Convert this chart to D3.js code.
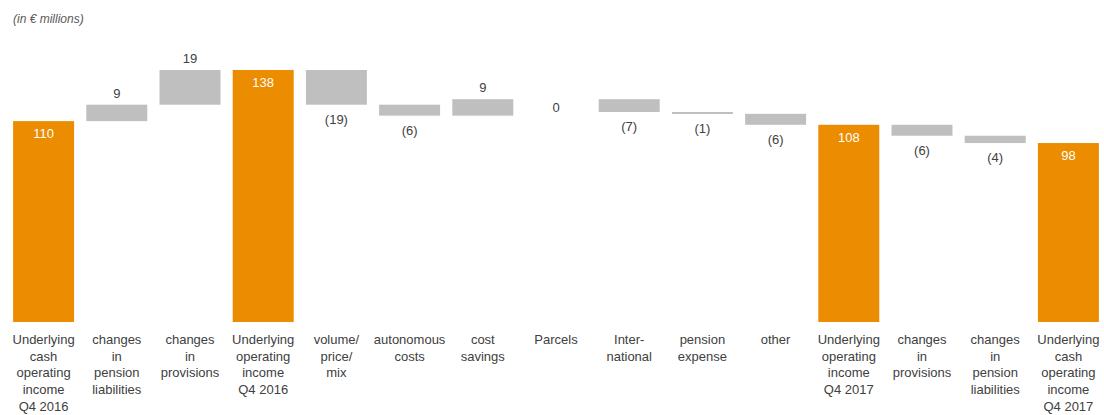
<!DOCTYPE html>
<html>
<head>
<meta charset="utf-8">
<script src="https://cdn.jsdelivr.net/npm/d3@7"></script>
<style>
  html, body { margin: 0; padding: 0; background: #fff; }
  svg { display: block; }
  text { font-family: "Liberation Sans", Arial, sans-serif; }
</style>
</head>
<body>
<svg id="chart" width="1104" height="415"></svg>
<script>
// Bridge of underlying operating income, Q4 2016 → Q4 2017 (in € millions)
const categories = [
  "Underlying\ncash\noperating\nincome\nQ4 2016",
  "changes\nin\npension\nliabilities",
  "changes\nin\nprovisions",
  "Underlying\noperating\nincome\nQ4 2016",
  "volume/\nprice/\nmix",
  "autonomous\ncosts",
  "cost\nsavings",
  "Parcels",
  "Inter-\nnational",
  "pension\nexpense",
  "other",
  "Underlying\noperating\nincome\nQ4 2017",
  "changes\nin\nprovisions",
  "changes\nin\npension\nliabilities",
  "Underlying\ncash\noperating\nincome\nQ4 2017"
];
const values = [110, 9, 19, 138, -19, -6, 9, 0, -7, -1, -6, 108, -6, -4, 98];
const isTotal = [true, false, false, true, false, false, false, false, false, false, false, true, false, false, true];
const unitLabel = "(in € millions)";

const ORANGE = "#ec8c00";
const GREY = "#bfbfbf";
const INK = "#404040";

// running levels for the floating bars
let level = 0;
const rows = values.map((v, i) => {
  let y0, y1;
  if (isTotal[i]) { y0 = 0; y1 = v; level = v; }
  else { y0 = level; y1 = level + v; level = y1; }
  return { i, v, total: isTotal[i], lo: Math.min(y0, y1), hi: Math.max(y0, y1), end: y1 };
});

const svg = d3.select("#chart");

const x = d3.scaleBand()
  .domain(d3.range(categories.length))
  .range([7, 1105])
  .paddingInner(0.167)
  .paddingOuter(0.0835);

const y = d3.scaleLinear().domain([0, 138]).range([322, 70]);

svg.append("text")
  .attr("x", 13).attr("y", 23)
  .attr("font-size", 12).attr("font-style", "italic")
  .attr("fill", "#595959")
  .text(unitLabel);

// bars
svg.append("g").selectAll("rect")
  .data(rows).join("rect")
  .attr("x", d => x(d.i))
  .attr("width", x.bandwidth())
  .attr("y", d => y(d.hi))
  .attr("height", d => Math.max(y(d.lo) - y(d.hi), d.v === 0 ? 0 : 2))
  .attr("fill", d => d.total ? ORANGE : GREY);

const fmt = v => v < 0 ? "(" + Math.abs(v) + ")" : String(v);

// value labels
svg.append("g").selectAll("text")
  .data(rows).join("text")
  .attr("text-anchor", "middle")
  .attr("font-size", 13)
  .attr("x", d => x(d.i) + x.bandwidth() / 2)
  .attr("y", d => {
    if (d.total) return y(d.hi) + 17;
    if (d.v > 0) return y(d.hi) - 7;
    if (d.v === 0) return y(d.hi) + 13;
    return y(d.lo) + 19;
  })
  .attr("fill", d => d.total ? "#fff" : INK)
  .text(d => fmt(d.v));

// category labels
const cat = svg.append("g").selectAll("text")
  .data(categories).join("text")
  .attr("text-anchor", "middle")
  .attr("font-size", 13)
  .attr("fill", INK)
  .attr("x", (d, i) => x(i) + x.bandwidth() / 2)
  .attr("y", 344);
cat.selectAll("tspan")
  .data(d => d.split("\n")).join("tspan")
  .attr("x", function () { return this.parentNode.getAttribute("x"); })
  .attr("dy", (d, j) => j === 0 ? 0 : 16.7)
  .text(d => d);
</script>
</body>
</html>
